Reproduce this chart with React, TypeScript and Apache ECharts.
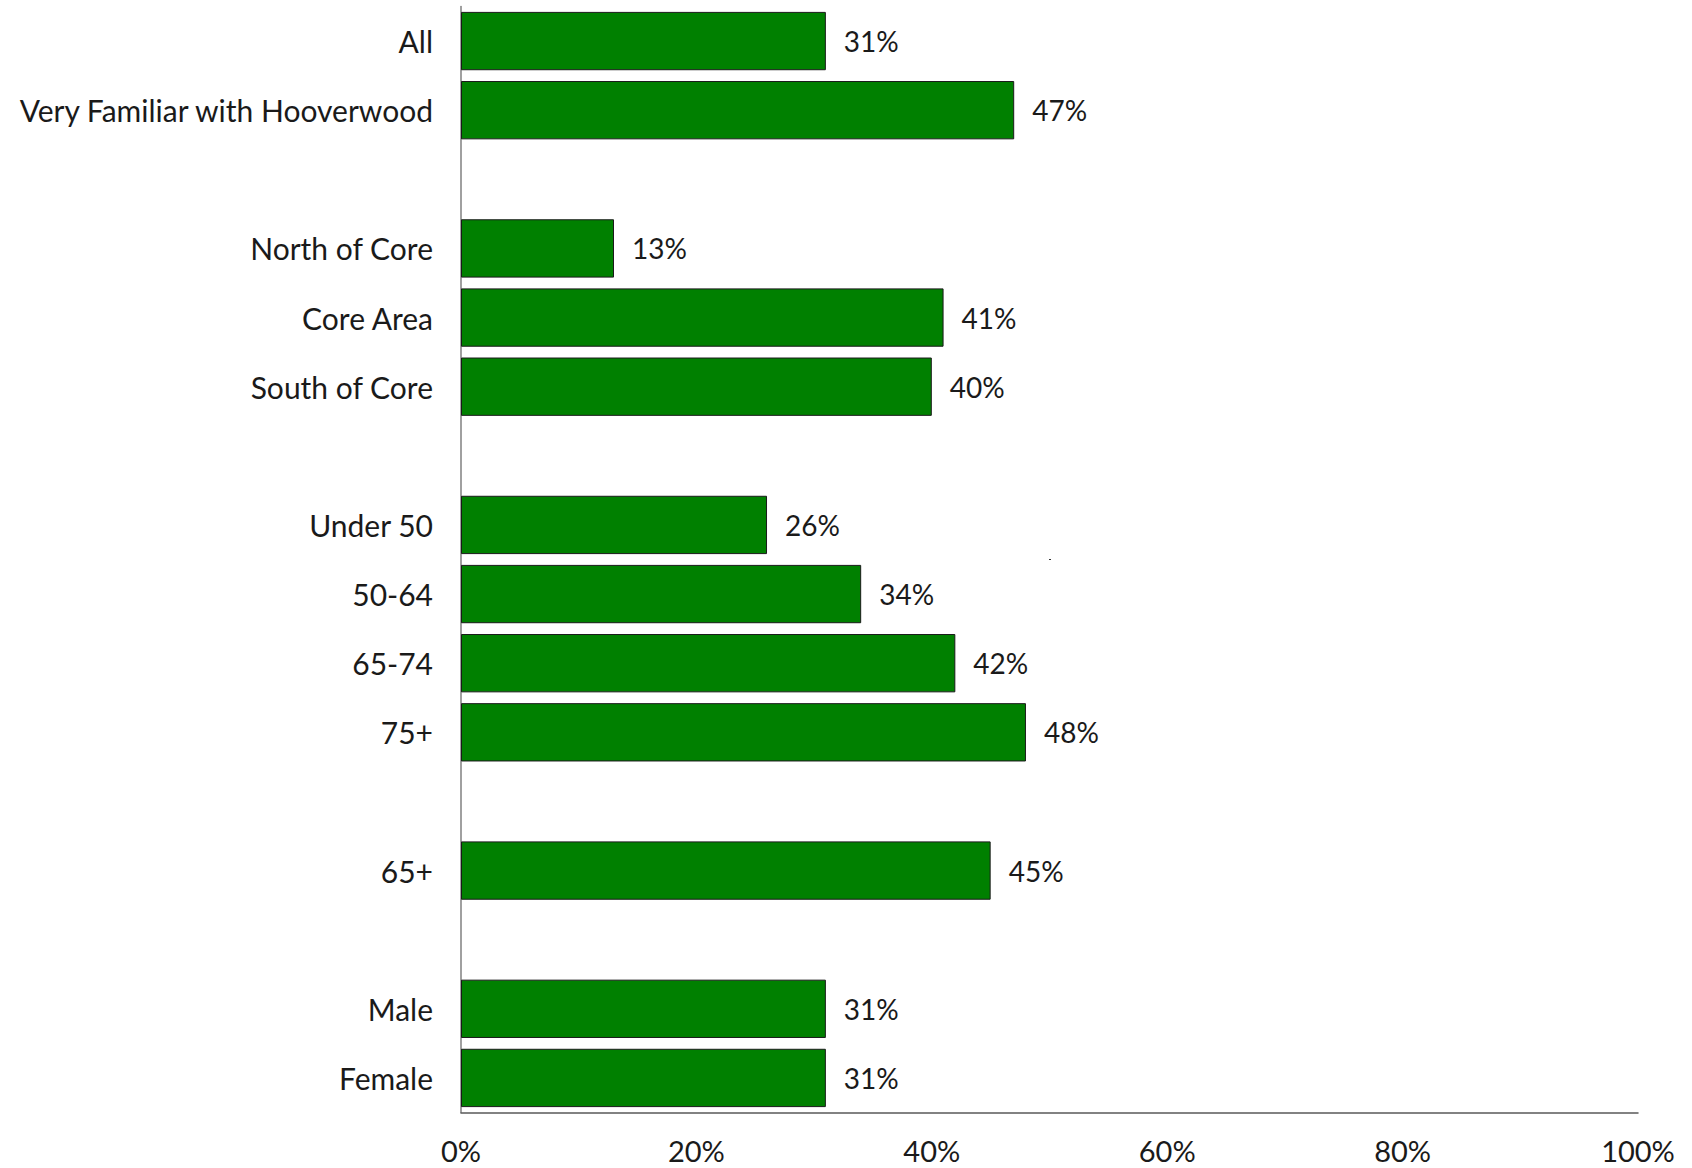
import React, { useEffect, useRef } from "react";
import * as echarts from "echarts";

const categories = [
  "All",
  "Very Familiar with Hooverwood",
  "",
  "North of Core",
  "Core Area",
  "South of Core",
  " ",
  "Under 50",
  "50-64",
  "65-74",
  "75+",
  "  ",
  "65+",
  "   ",
  "Male",
  "Female",
];
const values: (number | null)[] = [
  0.31, 0.47, null, 0.13, 0.41, 0.4, null, 0.26, 0.34, 0.42, 0.48, null, 0.45, null, 0.31, 0.31,
];
const xTicks = [0, 0.2, 0.4, 0.6, 0.8, 1.0];

const FONT = "Lato, 'Open Sans', sans-serif";

export default function App() {
  const ref = useRef<HTMLDivElement>(null);
  useEffect(() => {
    if (!ref.current) return;
    const chart = echarts.init(ref.current, null, { renderer: "svg" });
    chart.setOption({
      animation: false,
      backgroundColor: "#ffffff",
      grid: { left: 461, right: 54, top: 6.5, bottom: 55.5, containLabel: false },
      xAxis: {
        type: "value",
        min: 0,
        max: 1,
        interval: 0.2,
        axisLine: { show: true, lineStyle: { color: "#595959", width: 1.5 } },
        axisTick: { show: false },
        splitLine: { show: false },
        axisLabel: {
          formatter: (v: number) => (xTicks.includes(Math.round(v * 10) / 10) ? Math.round(v * 100) + "%" : ""),
          fontFamily: FONT,
          fontSize: 29,
          color: "#1a1a1a",
          margin: 23,
        },
      },
      yAxis: {
        type: "category",
        data: categories,
        inverse: true,
        axisLine: { show: true, lineStyle: { color: "#808080", width: 1.5 } },
        axisTick: { show: false },
        axisLabel: {
          fontFamily: FONT,
          fontSize: 30,
          color: "#1a1a1a",
          margin: 28,
        },
      },
      series: [
        {
          type: "bar",
          data: values,
          barCategoryGap: "15.6%",
          itemStyle: { color: "#008000", borderColor: "#1a1a1a", borderWidth: 1 },
          label: {
            show: true,
            position: "right",
            distance: 18,
            formatter: (p: any) => (p.value == null ? "" : Math.round(p.value * 100) + "%"),
            fontFamily: FONT,
            fontSize: 28,
            color: "#1a1a1a",
          },
        },
      ],
      graphic: [
        { type: "rect", shape: { x: 1049, y: 559, width: 2, height: 1 }, style: { fill: "#333" } },
      ],
    });
    return () => chart.dispose();
  }, []);
  return (
    <div
      ref={ref}
      style={{ position: "fixed", left: 0, top: 0, width: 1692, height: 1168 }}
    />
  );
}
